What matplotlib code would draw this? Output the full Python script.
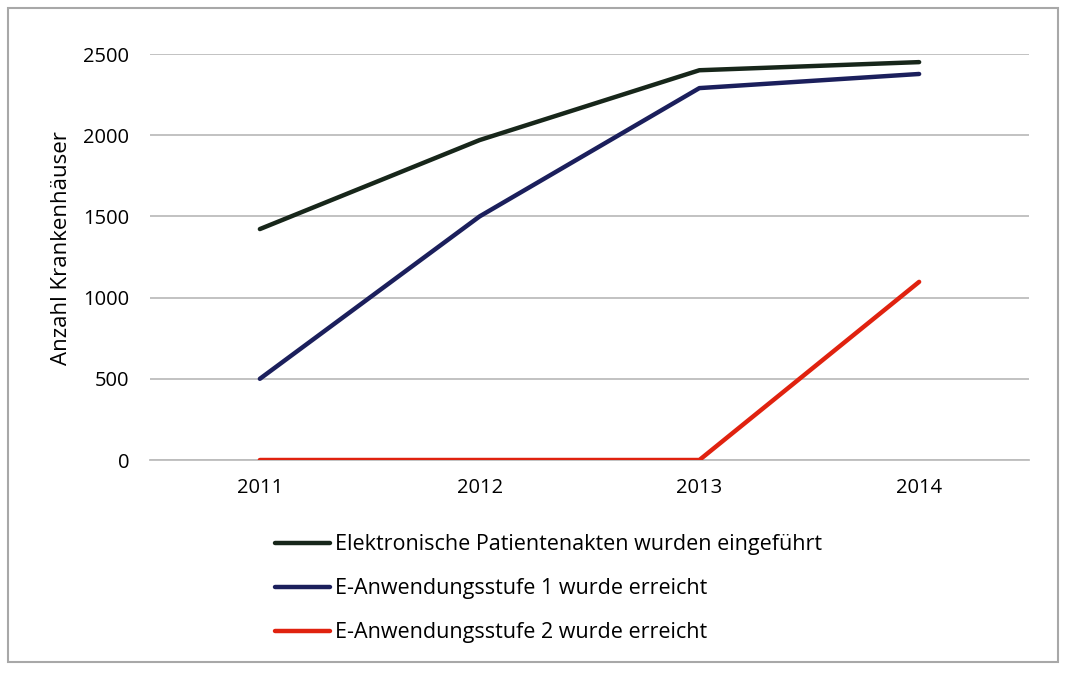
import matplotlib
matplotlib.use("Agg")
import matplotlib.pyplot as plt
from matplotlib.patches import Rectangle

years = ["2011", "2012", "2013", "2014"]
epa = [1422, 1970, 2400, 2450]
stufe1 = [500, 1500, 2290, 2377]
stufe2 = [0, 0, 0, 1097]
labels = ["Elektronische Patientenakten wurden eingeführt",
          "E-Anwendungsstufe 1 wurde erreicht",
          "E-Anwendungsstufe 2 wurde erreicht"]
colors = ["#17261a", "#1b1f5c", "#e0220f"]
yticks = [0, 500, 1000, 1500, 2000, 2500]

plt.rcParams['font.family'] = ['Open Sans', 'DejaVu Sans']

W, H = 1068, 675
fig = plt.figure(figsize=(W/100, H/100), dpi=100)
ax = fig.add_axes([150/W, 1-460/H, (1029-150)/W, (460-54)/H])

x = list(range(len(years)))
for vals, c, lab in zip([epa, stufe1, stufe2], colors, labels):
    ax.plot(x, vals, color=c, lw=3.2, label=lab, solid_capstyle='round', zorder=3)

ax.set_xlim(-0.5, 3.5)
ax.set_ylim(0, 2500)
ax.set_yticks(yticks)
ax.set_yticklabels([str(v) for v in yticks], fontsize=14.5)
ax.set_xticks(x)
ax.set_xticklabels(years, fontsize=14.5)
ax.tick_params(axis='y', length=0, pad=15)
ax.tick_params(axis='x', length=0, pad=13)
ax.grid(axis='y', color='#bdbdbd', lw=1.3)
ax.set_axisbelow(True)
for s in ['top', 'right', 'left']:
    ax.spines[s].set_visible(False)
ax.spines['bottom'].set_color('#bdbdbd')
ax.spines['bottom'].set_linewidth(1.3)
ax.set_ylabel("Anzahl Krankenhäuser", fontsize=16)
ax.yaxis.set_label_coords(-78/879, 0.523)

leg = fig.legend(loc='upper left', bbox_to_anchor=(256/W, 1-515/H), frameon=False,
                 fontsize=15.5, handlelength=2.56, handletextpad=0.23, labelspacing=1.07)

fig.patches.append(Rectangle((8/W, 13/H), (1058-8)/W, (667-13)/H, transform=fig.transFigure,
                             fill=False, edgecolor='#a8a8a8', lw=1.5))

fig.savefig("out.png", dpi=100)
